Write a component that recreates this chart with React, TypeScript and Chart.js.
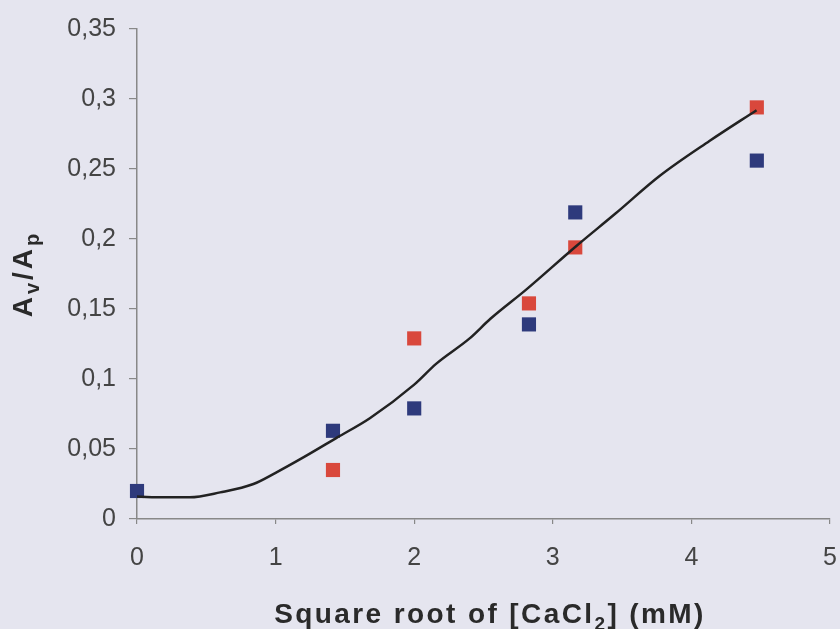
import React, { useEffect, useRef } from "react";
import { Chart, registerables } from "chart.js";

Chart.register(...registerables);

// Measured points (x = square root of [CaCl2] in mM)
const pointX = [0, 1.414, 2, 2.828, 3.162, 4.472];
const blueValues = [0.02, 0.063, 0.079, 0.139, 0.219, 0.256];
const redX = [1.414, 2, 2.828, 3.162, 4.472];
const redValues = [0.035, 0.129, 0.154, 0.194, 0.294];

// Fitted curve
const curveX = [0, 0.2, 0.38, 0.6, 0.84, 1.0, 1.2, 1.44, 1.68, 2.0, 2.16, 2.4, 2.55, 2.81, 3.17, 3.45, 3.77, 4.13, 4.47];
const curveY = [0.016, 0.0155, 0.0155, 0.019, 0.025, 0.033, 0.044, 0.058, 0.072, 0.096, 0.111, 0.129, 0.143, 0.164, 0.195, 0.218, 0.245, 0.27, 0.292];

const xTickLabels = ["0", "1", "2", "3", "4", "5"];
const yTickLabels = ["0", "0,05", "0,1", "0,15", "0,2", "0,25", "0,3", "0,35"];

const BG = "rgb(229,229,239)";
const FONT = "'Liberation Sans', Arial, sans-serif";

type Seg = { t: string; sub?: boolean };

function drawRich(
  ctx: CanvasRenderingContext2D,
  segs: Seg[],
  cx: number,
  cy: number,
  size: number,
  subSize: number,
  spacing: number
) {
  (ctx as any).letterSpacing = `${spacing}px`;
  const widths = segs.map((s) => {
    ctx.font = `bold ${s.sub ? subSize : size}px ${FONT}`;
    return ctx.measureText(s.t).width;
  });
  const total = widths.reduce((a, b) => a + b, 0);
  let x = cx - total / 2;
  ctx.textBaseline = "alphabetic";
  ctx.textAlign = "left";
  segs.forEach((s, i) => {
    ctx.font = `bold ${s.sub ? subSize : size}px ${FONT}`;
    ctx.fillText(s.t, x, cy + (s.sub ? size * 0.26 : 0));
    x += widths[i];
  });
  (ctx as any).letterSpacing = "0px";
}

const titlesPlugin = {
  id: "titles",
  beforeDraw(chart: any) {
    const ctx = chart.ctx;
    ctx.save();
    ctx.fillStyle = BG;
    ctx.fillRect(0, 0, chart.width, chart.height);
    ctx.restore();
  },
  afterDraw(chart: any) {
    const ctx = chart.ctx as CanvasRenderingContext2D;
    ctx.save();
    ctx.fillStyle = "#2a2a2a";
    drawRich(
      ctx,
      [{ t: "Square root of [CaCl" }, { t: "2", sub: true }, { t: "] (mM)" }],
      490,
      623,
      28,
      19,
      2.4
    );
    ctx.translate(32, 274);
    ctx.rotate(-Math.PI / 2);
    drawRich(
      ctx,
      [{ t: "A" }, { t: "v", sub: true }, { t: "/A" }, { t: "p", sub: true }],
      0,
      0,
      28,
      20,
      3
    );
    ctx.restore();
  },
};

export default function App() {
  const ref = useRef<HTMLCanvasElement | null>(null);

  useEffect(() => {
    document.body.style.margin = "0";
    const canvas = ref.current;
    if (!canvas) return;
    const chart = new Chart(canvas, {
      type: "scatter",
      data: {
        datasets: [
          {
            type: "line",
            label: "fit",
            data: curveX.map((x, i) => ({ x, y: curveY[i] })),
            borderColor: "#222",
            borderWidth: 2.5,
            pointRadius: 0,
            showLine: true,
            fill: false,
            clip: false,
            cubicInterpolationMode: "monotone",
          } as any,
          {
            label: "blue",
            data: pointX.map((x, i) => ({ x, y: blueValues[i] })),
            backgroundColor: "#2e3a7c",
            borderColor: "#2e3a7c",
            pointStyle: "rect",
            pointRadius: 10,
            borderWidth: 0,
            clip: false,
          } as any,
          {
            label: "red",
            data: redX.map((x, i) => ({ x, y: redValues[i] })),
            backgroundColor: "#d9483c",
            borderColor: "#d9483c",
            pointStyle: "rect",
            pointRadius: 10,
            borderWidth: 0,
            clip: false,
          } as any,
        ],
      },
      options: {
        responsive: false,
        animation: false,
        layout: { padding: { top: 29, right: 8, left: 0, bottom: 0 } },
        plugins: { legend: { display: false }, tooltip: { enabled: false } },
        scales: {
          x: {
            type: "linear",
            min: 0,
            max: 5,
            afterFit: (s: any) => {
              s.height = 629 - 519;
              s.paddingRight = 0;
              s.paddingLeft = 0;
            },
            ticks: {
              stepSize: 1,
              color: "#444",
              font: { family: FONT, size: 25 },
              padding: 19,
              maxRotation: 0,
              callback: (_v: any, i: number) => xTickLabels[i],
            },
            grid: { drawOnChartArea: false, color: "#888", tickLength: 5, lineWidth: 1.2 },
            border: { color: "#888", width: 1.5 },
          },
          y: {
            type: "linear",
            min: 0,
            max: 0.35,
            afterFit: (s: any) => {
              s.width = 137;
              s.paddingTop = 0;
              s.paddingBottom = 0;
            },
            ticks: {
              stepSize: 0.05,
              color: "#444",
              font: { family: FONT, size: 25 },
              padding: 13,
              callback: (_v: any, i: number) => yTickLabels[i],
            },
            grid: { drawOnChartArea: false, color: "#888", tickLength: 8, lineWidth: 1.2 },
            border: { color: "#888", width: 1.5 },
          },
        },
      },
      plugins: [titlesPlugin],
    });
    return () => chart.destroy();
  }, []);

  return <canvas ref={ref} width={840} height={629} style={{ display: "block" }} />;
}
